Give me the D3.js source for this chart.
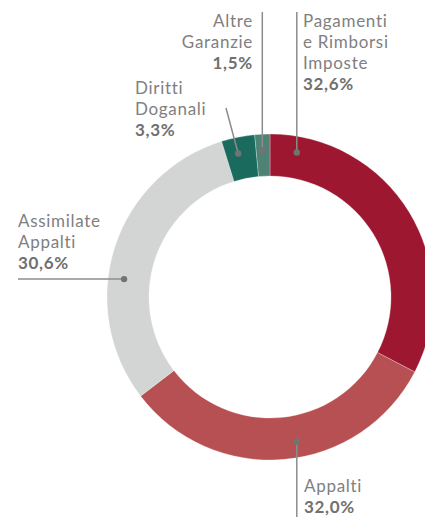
<!DOCTYPE html>
<html>
<head>
<meta charset="utf-8">
<script src="https://cdn.jsdelivr.net/npm/d3@7"></script>
<style>
  body { margin: 0; background: #fff; }
  svg text { font-family: Lato, "Open Sans", sans-serif; font-variant-ligatures: none; letter-spacing: 0.7px; }
</style>
</head>
<body>
<div id="chart"></div>
<script>
// Section 1: data
var categories = ["Pagamenti e Rimborsi Imposte", "Appalti", "Assimilate Appalti", "Diritti Doganali", "Altre Garanzie"];
var values = [32.6, 32.0, 30.6, 3.3, 1.5];
var valueLabels = ["32,6%", "32,0%", "30,6%", "3,3%", "1,5%"];
var nameLines = [["Pagamenti", "e Rimborsi", "Imposte"], ["Appalti"], ["Assimilate", "Appalti"], ["Diritti", "Doganali"], ["Altre", "Garanzie"]];
var colors = ["#9d1730", "#b65052", "#d3d5d4", "#1a6a5e", "#4e8275"];

// Section 2: layout
var width = 425;
var height = 517;
var cx = 270, cy = 297;
var outerR = 163, innerR = 121;
var dotR = 147;

// where each callout sits (angle on the ring, degrees clockwise from top)
var dotAngle = [10.5, 169.5, 277, 347.5, 357];

var svg = d3.select("#chart")
  .append("svg")
  .attr("width", width)
  .attr("height", height);

var pie = d3.pie().sort(null).value(function(d) { return d; });
var arc = d3.arc().innerRadius(innerR).outerRadius(outerR);

var g = svg.append("g").attr("transform", "translate(" + cx + "," + cy + ")");

g.selectAll("path")
  .data(pie(values))
  .enter()
  .append("path")
  .attr("d", arc)
  .attr("fill", function(d, i) { return colors[i]; })
  .attr("stroke", "rgba(255,255,255,0.45)")
  .attr("stroke-width", 0.6);

// dot position for a callout
function dotPos(i) {
  var a = dotAngle[i] * Math.PI / 180;
  return [cx + dotR * Math.sin(a), cy - dotR * Math.cos(a)];
}

// leader line end points
var leaderEnd = [
  function(p) { return [p[0], 12]; },
  function(p) { return [p[0], height]; },
  function(p) { return [18, p[1]]; },
  function(p) { return [226, 108]; },
  function(p) { return [p[0], 12]; }
];

var lineColor = "#8c8c8c";
categories.forEach(function(c, i) {
  var p = dotPos(i);
  var e = leaderEnd[i](p);
  svg.append("line")
    .attr("x1", p[0]).attr("y1", p[1])
    .attr("x2", e[0]).attr("y2", e[1])
    .attr("stroke", lineColor)
    .attr("stroke-width", 1.5);
  svg.append("circle")
    .attr("cx", p[0]).attr("cy", p[1])
    .attr("r", 3.2)
    .attr("fill", "#717572");
});

// Section 3: text labels
var labelPos = [
  { x: 303, y: 27, anchor: "start" },
  { x: 304, y: 492, anchor: "start" },
  { x: 18, y: 227, anchor: "start" },
  { x: 135, y: 94, anchor: "start" },
  { x: 253, y: 27, anchor: "end" }
];
var lineH = 21;

categories.forEach(function(c, i) {
  var t = svg.append("text")
    .attr("x", labelPos[i].x)
    .attr("y", labelPos[i].y)
    .attr("text-anchor", labelPos[i].anchor)
    .attr("font-size", 17)
    .attr("fill", "#808080");
  nameLines[i].forEach(function(s, k) {
    t.append("tspan")
      .attr("x", labelPos[i].x)
      .attr("dy", k === 0 ? 0 : lineH)
      .text(s);
  });
  t.append("tspan")
    .attr("x", labelPos[i].x)
    .attr("dy", lineH)
    .attr("font-weight", "bold")
    .attr("fill", "#707070")
    .text(valueLabels[i]);
});
</script>
</body>
</html>
